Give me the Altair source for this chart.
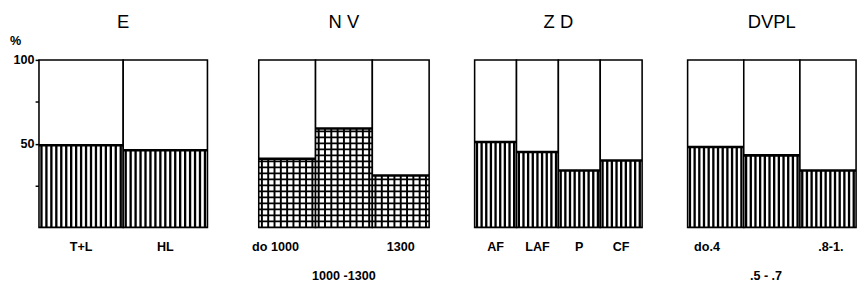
import altair as alt
import pandas as pd

# ---- data ----
e_cats = ["T+L", "HL"]
e_vals = [49, 46]
nv_cats = ["do 1000", "1000 -1300", "1300"]
nv_vals = [41, 59, 31]
zd_cats = ["AF", "LAF", "P", "CF"]
zd_vals = [51, 45, 34, 40]
dv_cats = ["do.4", ".5 - .7", ".8-1."]
dv_vals = [48, 43, 34]

# label rows (0 = first line, 1 = second line) and pixel nudges (style)
e_rows, e_dx = [0, 0], [0, 0]
nv_rows, nv_dx = [0, 1, 0], [-12, 0, 0]
zd_rows, zd_dx = [0, 0, 0, 0], [0, 0, 0, 0]
dv_rows, dv_dx = [0, 1, 0], [-9, -6, 3]

FONT = "Liberation Sans"
H = 173
STRIPE_PX = 5.0
GRID_PX = 6.2


def panel(title, cats, vals, rows, dxs, width, pattern, yaxis=False):
    n = len(cats)
    bw = width / n
    bars = pd.DataFrame({"cat": cats, "i": list(range(n)), "val": vals})
    bars["i1"] = bars["i"] + 1
    bars["lo"] = 0
    bars["hi"] = 100
    xs = alt.Scale(domain=[0, n], nice=False, zero=False)
    if yaxis:
        yax = alt.Axis(values=[25, 50, 75, 100],
                       labelExpr="(datum.value == 50 || datum.value == 100) ? datum.value : ''",
                       tickSize=4, tickColor="black", tickWidth=1.5, domain=False, grid=False,
                       labelFont=FONT, labelFontSize=13, labelFontWeight="bold",
                       labelColor="black", labelPadding=1, title=None)
    else:
        yax = None
    ys = alt.Scale(domain=[0, 100], nice=False)

    base = alt.Chart(bars)
    frame = base.mark_rect(fill="white", stroke="black", strokeWidth=1.6).encode(
        x=alt.X("i:Q", scale=xs, axis=None), x2="i1:Q",
        y=alt.Y("lo:Q", scale=ys, axis=yax), y2="hi:Q")

    # pattern lines inside each bar
    spacing = GRID_PX if pattern == "grid" else STRIPE_PX
    m = max(1, round(bw / spacing))
    srows = []
    for i, v in enumerate(vals):
        for k in range(m):
            srows.append({"sx": i + (k + 0.5) / m, "lo": 0, "val": v})
    sdf = pd.DataFrame(srows)
    stripes = alt.Chart(sdf).mark_rule(color="black",
                                       strokeWidth=2.0 if pattern == "grid" else 2.4).encode(
        x=alt.X("sx:Q", scale=xs), y=alt.Y("lo:Q", scale=ys), y2="val:Q")
    layers = [frame, stripes]
    if pattern == "grid":
        step = 100 * GRID_PX / H
        hrows = []
        for i, v in enumerate(vals):
            k = 1
            while k * step < v - 0.5:
                hrows.append({"x0": i, "x1": i + 1, "hy": k * step})
                k += 1
        hdf = pd.DataFrame(hrows)
        hl = alt.Chart(hdf).mark_rule(color="black", strokeWidth=2.0).encode(
            x=alt.X("x0:Q", scale=xs), x2="x1:Q", y=alt.Y("hy:Q", scale=ys))
        layers.append(hl)
    top = base.mark_rule(color="black", strokeWidth=2.6).encode(
        x=alt.X("i:Q", scale=xs), x2="i1:Q", y=alt.Y("val:Q", scale=ys))
    layers.append(top)

    # labels under the bars
    ldf = pd.DataFrame({"cat": cats,
                        "cx": [i + 0.5 + dxs[i] / bw for i in range(n)],
                        "row": rows})
    for r, yy in [(0, H + 20), (1, H + 50)]:
        sub = ldf[ldf["row"] == r]
        if len(sub):
            layers.append(alt.Chart(sub).mark_text(
                font=FONT, fontSize=13, fontWeight="bold", color="black",
                baseline="middle").encode(
                x=alt.X("cx:Q", scale=xs), y=alt.value(yy), text="cat:N"))

    # panel title as a text mark above the box
    tdf = pd.DataFrame({"t": [title], "cx": [n / 2]})
    layers.append(alt.Chart(tdf).mark_text(
        font=FONT, fontSize=19, color="black", baseline="alphabetic").encode(
        x=alt.X("cx:Q", scale=xs), y=alt.value(-33), text="t:N"))
    if yaxis:
        pdf = pd.DataFrame({"t": ["%"]})
        layers.append(alt.Chart(pdf).mark_text(
            font=FONT, fontSize=13, fontWeight="bold", color="black",
            align="left", baseline="alphabetic").encode(
            x=alt.value(-30), y=alt.value(-15), text="t:N"))

    return alt.layer(*layers).properties(width=width, height=H)


chart = alt.hconcat(
    panel("E", e_cats, e_vals, e_rows, e_dx, 174, "stripe", yaxis=True),
    panel("N V", nv_cats, nv_vals, nv_rows, nv_dx, 176, "grid"),
    panel("Z D", zd_cats, zd_vals, zd_rows, zd_dx, 173, "stripe"),
    panel("DVPL", dv_cats, dv_vals, dv_rows, dv_dx, 174, "stripe"),
    spacing=43,
).configure_view(stroke="black", strokeWidth=2.2).configure(
    padding={"left": 1, "top": 0, "right": 0, "bottom": 0}, background="white")

chart.save("out.html", embed_options={"renderer": "svg", "actions": False})
